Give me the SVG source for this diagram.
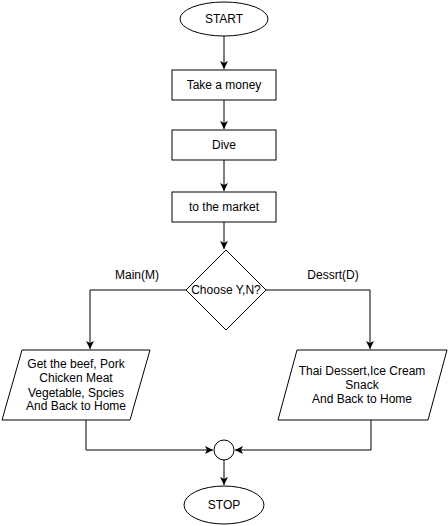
<svg xmlns="http://www.w3.org/2000/svg" width="448" height="526" viewBox="0 0 448 526">
<style>
.s{fill:#fff;stroke:#000;stroke-width:1}
.c{fill:none;stroke:#000;stroke-width:1}
text{font-family:"Liberation Sans",Arial,sans-serif;font-size:12px;fill:#000;text-anchor:middle}
</style>
<defs>
<marker id="a" markerUnits="userSpaceOnUse" markerWidth="10" markerHeight="10" refX="8" refY="4" orient="auto">
<path d="M0,0 L8,4 L0,8 L2,4 Z" fill="#000"/>
</marker>
</defs>
<rect width="448" height="526" fill="#fff"/>
<g id="connectors">
<path class="c" d="M224,36 V69" marker-end="url(#a)"/>
<path class="c" d="M224,100 V129" marker-end="url(#a)"/>
<path class="c" d="M224,160 V191" marker-end="url(#a)"/>
<path class="c" d="M224,222 V249" marker-end="url(#a)"/>
<path class="c" d="M187,290 H90 V349" marker-end="url(#a)"/>
<path class="c" d="M264,290 H370 V349" marker-end="url(#a)"/>
<path class="c" d="M86,420 V450 H213" marker-end="url(#a)"/>
<path class="c" d="M371,420 V450 H235" marker-end="url(#a)"/>
<path class="c" d="M224,460 V485" marker-end="url(#a)"/>
<text x="137" y="279">Main(M)</text>
<text x="333" y="279">Dessrt(D)</text>
</g>
<g id="start"><ellipse class="s" cx="224" cy="19" rx="44" ry="17"/><text x="224" y="23">START</text></g>
<g id="money"><rect class="s" x="172" y="70" width="104" height="30"/><text x="224" y="89">Take a money</text></g>
<g id="dive"><rect class="s" x="172" y="130" width="104" height="30"/><text x="224" y="149">Dive</text></g>
<g id="market"><rect class="s" x="172" y="192" width="104" height="30"/><text x="224" y="211">to the market</text></g>
<g id="choose"><path class="s" d="M226,250 L266,290 L226,330 L186,290 Z"/><text x="226" y="294">Choose Y,N?</text></g>
<g id="main"><path class="s" d="M22,350 L150,350 L130,420 L2,420 Z"/>
<text x="76" y="368">Get the beef, Pork</text>
<text x="76" y="382">Chicken Meat</text>
<text x="76" y="397">Vegetable, Spcies</text>
<text x="76" y="410">And Back to Home</text></g>
<g id="dessert"><path class="s" d="M297,350 L447,350 L428,420 L278,420 Z"/>
<text x="362" y="375">Thai Dessert,Ice Cream</text>
<text x="362" y="389">Snack</text>
<text x="362" y="403">And Back to Home</text></g>
<g id="merge"><circle class="s" cx="224" cy="450" r="10"/></g>
<g id="stop"><ellipse class="s" cx="224" cy="505" rx="40" ry="19"/><text x="224" y="509">STOP</text></g>
</svg>
